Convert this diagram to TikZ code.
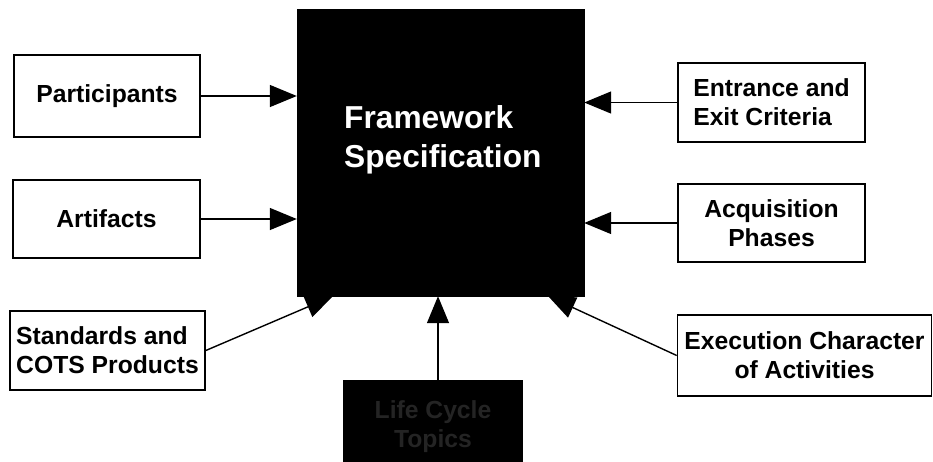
\documentclass[tikz,border=0pt]{standalone}
\usepackage{fontspec}
\setmainfont{Liberation Sans}
\usetikzlibrary{arrows.meta}
\begin{document}
\begin{tikzpicture}[x=1pt,y=-1pt,
  boxtxt/.style={draw=black, line width=1.6pt, fill=white, inner sep=2pt,
    font=\bfseries\fontsize{24.7}{29}\selectfont, align=center},
  bigtxt/.style={text=white, inner sep=0pt, anchor=base west,
    font=\bfseries\fontsize{31.7}{39}\selectfont},
  conn/.style={line width=1.4pt, -{Triangle[length=27pt,width=22pt]}}]
\useasboundingbox (0,0) rectangle (933,461);

% central block
\node[fill=black, draw=black, minimum width=287pt, minimum height=287pt, inner sep=0pt] (fw) at (440.5,152.5) {};
\node[bigtxt] (fw1) at (344,128) {Framework};
\node[bigtxt] (fw2) at (344,167) {Specification};

% input boxes
\node[boxtxt, minimum width=186pt, minimum height=82pt] (part) at (107,96) {Participants};
\node[boxtxt, minimum width=187pt, minimum height=78pt] (arti) at (106.5,219) {Artifacts};
\node[boxtxt, minimum width=195pt, minimum height=79pt, align=left] (stan) at (107.5,350.5) {Standards and\\COTS Products};
\node[boxtxt, minimum width=187pt, minimum height=79pt, align=left] (entr) at (771.5,102.5) {Entrance and\\Exit Criteria};
\node[boxtxt, minimum width=187pt, minimum height=78pt] (acq) at (771.5,223) {Acquisition\\Phases};
\node[boxtxt, minimum width=254pt, minimum height=81pt] (exec) at (804.5,355.5) {Execution Character\\of Activities};
\node[boxtxt, fill=black, text=white!14!black, minimum width=178pt, minimum height=92pt, anchor=north] (other) at (433,380) {Life Cycle\\Topics};

% connectors
\draw[conn] (part.east) -- (part.east -| fw.west);
\draw[conn] (arti.east) -- (arti.east -| fw.west);
\draw[conn] (entr.west) -- (entr.west -| fw.east);
\draw[conn] (acq.west) -- (acq.west -| fw.east);
\draw[conn] (stan.east) -- ([xshift=36pt]fw.south west);
\draw[conn] (exec.west) -- ([xshift=-36pt]fw.south east);
\draw[conn] ([xshift=5pt]other.north) -- ([xshift=5pt]other.north |- fw.south);
\end{tikzpicture}
\end{document}
